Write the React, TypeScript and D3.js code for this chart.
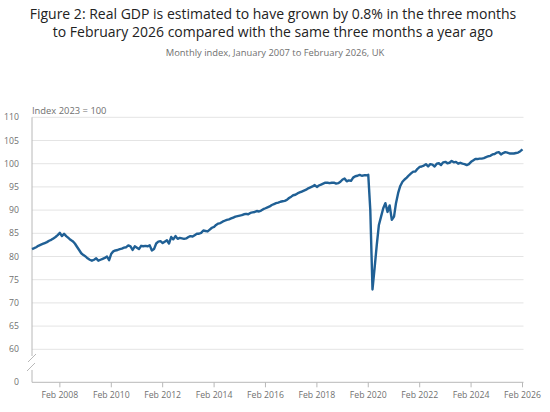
import { useEffect, useRef } from "react";
import * as d3 from "d3";

// Monthly GDP index (2023 = 100), Jan to Dec per year
const gdp2007 = [81.6, 81.8, 82.0, 82.3, 82.5, 82.7, 82.9, 83.1, 83.4, 83.6, 83.9, 84.2];
const gdp2008 = [84.6, 85.1, 84.4, 84.9, 84.4, 84.0, 83.6, 83.3, 82.8, 82.1, 81.4, 80.7];
const gdp2009 = [80.3, 80.0, 79.6, 79.3, 79.1, 79.3, 79.6, 79.1, 79.3, 79.5, 79.7, 80.0];
const gdp2010 = [79.2, 80.6, 81.1, 81.3, 81.4, 81.6, 81.7, 81.9, 82.0, 82.4, 82.2, 81.4];
const gdp2011 = [82.2, 81.9, 81.6, 82.3, 82.2, 82.3, 82.2, 82.4, 81.3, 81.6, 82.8, 83.2];
const gdp2012 = [83.3, 82.9, 83.2, 83.5, 82.8, 84.2, 83.7, 84.4, 83.8, 84.0, 83.9, 83.8];
const gdp2013 = [83.9, 84.2, 84.4, 84.3, 84.6, 84.9, 84.9, 85.1, 85.6, 85.5, 85.4, 85.8];
const gdp2014 = [86.2, 86.4, 86.8, 87.1, 87.2, 87.5, 87.7, 87.9, 88.0, 88.2, 88.4, 88.6];
const gdp2015 = [88.7, 88.8, 88.9, 89.1, 89.2, 89.1, 89.4, 89.5, 89.6, 89.8, 89.7, 89.9];
const gdp2016 = [90.2, 90.4, 90.6, 90.8, 91.1, 91.3, 91.5, 91.6, 91.8, 91.9, 92.0, 92.2];
const gdp2017 = [92.6, 92.9, 93.2, 93.3, 93.6, 93.8, 94.0, 94.2, 94.4, 94.7, 94.9, 95.1];
const gdp2018 = [95.4, 95.0, 95.3, 95.5, 95.7, 95.9, 95.9, 95.8, 95.9, 95.9, 95.7, 95.8];
const gdp2019 = [96.1, 96.6, 96.8, 96.2, 96.4, 96.3, 97.0, 97.3, 97.4, 97.6, 97.4, 97.5];
const gdp2020 = [97.5, 97.6, 90.0, 72.9, 77.5, 82.5, 86.8, 88.6, 90.4, 91.5, 89.6, 91.0];
const gdp2021 = [87.9, 88.6, 91.5, 93.7, 95.2, 96.1, 96.6, 97.0, 97.5, 97.9, 98.3, 98.3];
const gdp2022 = [98.9, 99.3, 99.4, 99.6, 99.9, 99.4, 99.9, 99.8, 99.4, 100.0, 100.1, 99.7];
const gdp2023 = [100.3, 100.4, 100.1, 100.2, 100.6, 100.3, 100.4, 100.0, 100.2, 100.0, 99.9, 99.7];
const gdp2024 = [99.9, 100.4, 100.7, 101.0, 101.0, 101.1, 101.1, 101.2, 101.4, 101.6, 101.7, 102.0];
const gdp2025 = [102.1, 102.4, 102.5, 102.0, 102.3, 102.5, 102.4, 102.2, 102.2, 102.2, 102.3, 102.4];
const gdp2026 = [102.7, 103.1];

const allYears = [
  gdp2007, gdp2008, gdp2009, gdp2010, gdp2011, gdp2012, gdp2013, gdp2014, gdp2015, gdp2016,
  gdp2017, gdp2018, gdp2019, gdp2020, gdp2021, gdp2022, gdp2023, gdp2024, gdp2025, gdp2026,
];

const yTicks = [60, 65, 70, 75, 80, 85, 90, 95, 100, 105, 110];
const xTickYears = [2008, 2010, 2012, 2014, 2016, 2018, 2020, 2022, 2024, 2026];

const titleLines = [
  "Figure 2: Real GDP is estimated to have grown by 0.8% in the three months",
  "to February 2026 compared with the same three months a year ago",
];
const subtitle = "Monthly index, January 2007 to February 2026, UK";
const yAxisTitle = "Index 2023 = 100";

const W = 550;
const H = 412;
const FONT = "'Open Sans', sans-serif";

export default function App() {
  const svgRef = useRef<SVGSVGElement | null>(null);

  useEffect(() => {
    if (!svgRef.current) return;
    const svg = d3.select(svgRef.current);
    svg.selectAll("*").remove();

    const data = allYears.flatMap((vals, i) =>
      vals.map((v, m) => ({ date: new Date(2007 + i, m, 1), value: v }))
    );

    const left = 32;
    const right = 522.5;

    const x = d3.scaleTime()
      .domain([new Date(2007, 0, 1), new Date(2026, 1, 1)])
      .range([left, right]);

    // broken axis: 0 sits just below 60
    const y = d3.scaleLinear()
      .domain([0, 60, 110])
      .range([382.3, 349.3, 117.3]);

    svg.append("rect").attr("width", W).attr("height", H).attr("fill", "#fff");

    // title + subtitle
    svg.append("g")
      .selectAll("text")
      .data(titleLines)
      .join("text")
      .attr("x", 273)
      .attr("y", (_, i) => 18.5 + i * 18.5)
      .attr("text-anchor", "middle")
      .attr("font-family", FONT)
      .attr("font-size", 14)
      .attr("fill", "#222")
      .text(d => d);

    svg.append("text")
      .attr("x", 275)
      .attr("y", 56)
      .attr("text-anchor", "middle")
      .attr("font-family", FONT)
      .attr("font-size", 9.4)
      .attr("fill", "#707070")
      .text(subtitle);

    // gridlines
    svg.append("g")
      .selectAll("line")
      .data(yTicks)
      .join("line")
      .attr("x1", left)
      .attr("x2", right + 1)
      .attr("y1", d => y(d))
      .attr("y2", d => y(d))
      .attr("stroke", "#e4e4e4")
      .attr("stroke-width", 1);

    // y tick labels
    svg.append("g")
      .selectAll("text")
      .data([0, ...yTicks])
      .join("text")
      .attr("x", 19)
      .attr("y", d => y(d))
      .attr("dy", "0.35em")
      .attr("text-anchor", "end")
      .attr("font-family", FONT)
      .attr("font-size", 8.7)
      .attr("fill", "#707070")
      .text(d => d);

    svg.append("text")
      .attr("x", left)
      .attr("y", 114)
      .attr("font-family", FONT)
      .attr("font-size", 9.4)
      .attr("fill", "#707070")
      .text(yAxisTitle);

    // y axis line with break
    const axisCol = "#b8b8b8";
    svg.append("line")
      .attr("x1", left).attr("x2", left)
      .attr("y1", y(110)).attr("y2", 356)
      .attr("stroke", axisCol);
    svg.append("line")
      .attr("x1", left).attr("x2", left)
      .attr("y1", 370).attr("y2", y(0))
      .attr("stroke", axisCol);
    [[28, 362, 36, 354], [27, 371, 35, 363]].forEach(([x1, y1, x2, y2]) => {
      svg.append("line")
        .attr("x1", x1).attr("y1", y1).attr("x2", x2).attr("y2", y2)
        .attr("stroke", axisCol).attr("stroke-width", 1);
    });

    // x axis
    const xTicks = xTickYears.map(yr => new Date(yr, 1, 1));
    svg.append("line")
      .attr("x1", left).attr("x2", right + 1)
      .attr("y1", y(0)).attr("y2", y(0))
      .attr("stroke", axisCol);

    const xg = svg.append("g").selectAll("g").data(xTicks).join("g")
      .attr("transform", d => `translate(${x(d)},${y(0)})`);
    xg.append("line").attr("y1", 0).attr("y2", 5).attr("stroke", axisCol);
    xg.append("text")
      .attr("y", 15.5)
      .attr("text-anchor", "middle")
      .attr("font-family", FONT)
      .attr("font-size", 8.7)
      .attr("fill", "#707070")
      .text(d => d3.timeFormat("%b %Y")(d));

    // the series line
    const line = d3.line<{ date: Date; value: number }>()
      .x(d => x(d.date))
      .y(d => y(d.value));

    svg.append("path")
      .datum(data)
      .attr("fill", "none")
      .attr("stroke", "#206095")
      .attr("stroke-width", 2.4)
      .attr("stroke-linejoin", "round")
      .attr("d", line);
  }, []);

  return (
    <svg
      ref={svgRef}
      width={W}
      height={H}
      style={{ position: "absolute", left: 0, top: 0, display: "block" }}
    />
  );
}
